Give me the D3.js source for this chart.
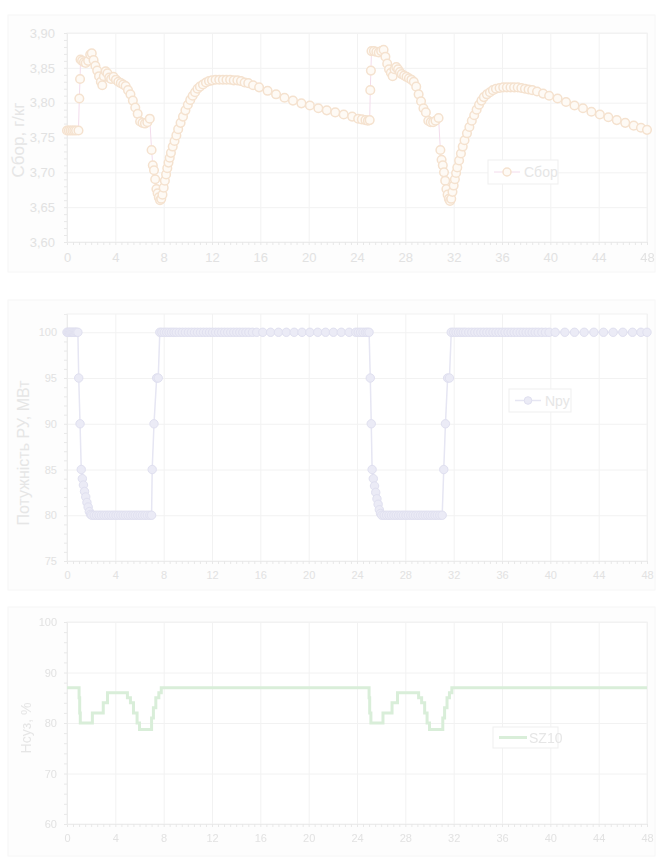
<!DOCTYPE html>
<html>
<head>
<meta charset="utf-8">
<script src="https://cdn.jsdelivr.net/npm/d3@7"></script>
<style>
  body { margin: 0; background: #fff; }
  svg { filter: blur(0.5px); }
  text { font-family: "Liberation Sans", Arial, sans-serif; }
</style>
</head>
<body>
<div id="chart"></div>
<script>
// time axis, hours
const hourTicks = [0, 4, 8, 12, 16, 20, 24, 28, 32, 36, 40, 44, 48]

// Сбор, г/кг  [hour, value]
const sborPoints = [
  [0, 3.760], [0.15, 3.760], [0.3, 3.760], [0.45, 3.760], [0.6, 3.760], [0.75, 3.760], [0.95, 3.760],
  [1.02, 3.806], [1.08, 3.834], [1.12, 3.862], [1.25, 3.860], [1.4, 3.858], [1.55, 3.857], [1.75, 3.860],
  [1.92, 3.869], [2.05, 3.871], [2.2, 3.861], [2.35, 3.853], [2.5, 3.846], [2.65, 3.838], [2.8, 3.830],
  [2.92, 3.825], [3.05, 3.838], [3.2, 3.845], [3.35, 3.842], [3.5, 3.836], [3.65, 3.834], [3.85, 3.837],
  [4.05, 3.833], [4.25, 3.830], [4.45, 3.828], [4.65, 3.826], [4.85, 3.824], [5.05, 3.818], [5.25, 3.812],
  [5.45, 3.803], [5.65, 3.793], [5.85, 3.784], [6.05, 3.773], [6.25, 3.771], [6.45, 3.770], [6.65, 3.772],
  [6.85, 3.777], [7.0, 3.732], [7.1, 3.710], [7.2, 3.703], [7.3, 3.690], [7.4, 3.676], [7.5, 3.670],
  [7.6, 3.664], [7.7, 3.660], [7.8, 3.662], [7.9, 3.668], [8.0, 3.678], [8.1, 3.688], [8.2, 3.697],
  [8.3, 3.706], [8.4, 3.714], [8.5, 3.721], [8.6, 3.728], [8.75, 3.737], [8.9, 3.745], [9.05, 3.753],
  [9.2, 3.762], [9.4, 3.771], [9.6, 3.780], [9.8, 3.789], [10.0, 3.797], [10.2, 3.804], [10.4, 3.810],
  [10.6, 3.815], [10.8, 3.820], [11.0, 3.823], [11.25, 3.826], [11.5, 3.829], [11.75, 3.831], [12.0, 3.832],
  [12.3, 3.833], [12.6, 3.833], [12.9, 3.833], [13.2, 3.833], [13.5, 3.833], [13.8, 3.832], [14.1, 3.832],
  [14.4, 3.831], [14.7, 3.829], [15.0, 3.828], [15.4, 3.825], [15.9, 3.822], [16.6, 3.817], [17.3, 3.812],
  [18.0, 3.807], [18.7, 3.803], [19.4, 3.799], [20.1, 3.796], [20.8, 3.792], [21.5, 3.789], [22.2, 3.786],
  [22.9, 3.783], [23.6, 3.780], [24.1, 3.777], [24.4, 3.776], [24.7, 3.775], [24.9, 3.774], [25.05, 3.775],
  [25.1, 3.818], [25.15, 3.846], [25.2, 3.874], [25.4, 3.874], [25.6, 3.873], [25.8, 3.872], [26.0, 3.874],
  [26.2, 3.876], [26.35, 3.866], [26.5, 3.856], [26.65, 3.848], [26.8, 3.843], [26.95, 3.838], [27.1, 3.848],
  [27.25, 3.851], [27.4, 3.848], [27.55, 3.844], [27.7, 3.841], [27.9, 3.839], [28.1, 3.837], [28.3, 3.835],
  [28.5, 3.833], [28.7, 3.830], [28.9, 3.823], [29.1, 3.812], [29.3, 3.802], [29.5, 3.792], [29.7, 3.786],
  [29.9, 3.774], [30.1, 3.772], [30.3, 3.772], [30.5, 3.774], [30.75, 3.778], [30.9, 3.732], [31.0, 3.718],
  [31.1, 3.710], [31.2, 3.700], [31.3, 3.688], [31.4, 3.676], [31.5, 3.668], [31.6, 3.662], [31.7, 3.659],
  [31.8, 3.662], [31.9, 3.672], [32.0, 3.681], [32.1, 3.690], [32.2, 3.699], [32.3, 3.707], [32.45, 3.717],
  [32.6, 3.727], [32.75, 3.737], [32.9, 3.746], [33.1, 3.756], [33.3, 3.765], [33.5, 3.774], [33.7, 3.782],
  [33.9, 3.790], [34.1, 3.797], [34.3, 3.803], [34.5, 3.808], [34.75, 3.812], [35.0, 3.815], [35.25, 3.818],
  [35.5, 3.820], [35.8, 3.821], [36.1, 3.822], [36.4, 3.822], [36.7, 3.822], [37.0, 3.822], [37.3, 3.822],
  [37.6, 3.821], [37.9, 3.820], [38.2, 3.819], [38.5, 3.818], [38.9, 3.816], [39.4, 3.813], [39.9, 3.810],
  [40.6, 3.806], [41.3, 3.801], [42.0, 3.796], [42.7, 3.792], [43.4, 3.787], [44.1, 3.783], [44.8, 3.779],
  [45.5, 3.775], [46.2, 3.771], [46.9, 3.767], [47.5, 3.764], [48.0, 3.761]
]
const sborTicks = [3.60, 3.65, 3.70, 3.75, 3.80, 3.85, 3.90]

// Nру  [hour, value]
const npuPoints = [
  [0, 100], [0.1, 100], [0.2, 100], [0.3, 100], [0.4, 100], [0.5, 100], [0.6, 100], [0.7, 100], [0.8, 100], [0.9, 100],
  [0.97, 95], [1.08, 90], [1.18, 85], [1.27, 84], [1.36, 83.3], [1.45, 82.6], [1.55, 82], [1.65, 81.4],
  [1.75, 80.9], [1.85, 80.4], [1.95, 80.1], [2.05, 80],
  [2.25, 80], [2.45, 80], [2.65, 80], [2.85, 80], [3.05, 80], [3.25, 80], [3.45, 80], [3.65, 80], [3.85, 80],
  [4.05, 80], [4.25, 80], [4.45, 80], [4.65, 80], [4.85, 80], [5.05, 80], [5.25, 80], [5.45, 80], [5.65, 80],
  [5.85, 80], [6.05, 80], [6.25, 80], [6.45, 80], [6.65, 80], [6.85, 80], [7.0, 80],
  [7.05, 85], [7.2, 90], [7.42, 95], [7.55, 95], [7.68, 100],
  [7.85, 100], [8.05, 100], [8.25, 100], [8.45, 100], [8.65, 100], [8.85, 100], [9.05, 100], [9.3, 100],
  [9.55, 100], [9.8, 100], [10.05, 100], [10.3, 100], [10.55, 100], [10.8, 100], [11.05, 100], [11.3, 100],
  [11.55, 100], [11.8, 100], [12.05, 100], [12.3, 100], [12.55, 100], [12.8, 100], [13.05, 100], [13.3, 100],
  [13.55, 100], [13.8, 100], [14.05, 100], [14.3, 100], [14.55, 100], [14.8, 100], [15.05, 100], [15.35, 100],
  [15.7, 100], [16.2, 100], [16.85, 100], [17.5, 100], [18.15, 100], [18.8, 100], [19.45, 100], [20.1, 100],
  [20.75, 100], [21.4, 100], [22.05, 100], [22.7, 100], [23.35, 100], [23.9, 100], [24.1, 100], [24.3, 100],
  [24.5, 100], [24.7, 100], [24.85, 100], [25.0, 100],
  [25.1, 95], [25.18, 90], [25.25, 85], [25.35, 84], [25.45, 83.2], [25.55, 82.5], [25.65, 81.8],
  [25.75, 81.2], [25.85, 80.6], [25.95, 80.2], [26.05, 80],
  [26.25, 80], [26.45, 80], [26.65, 80], [26.85, 80], [27.05, 80], [27.25, 80], [27.45, 80], [27.65, 80],
  [27.85, 80], [28.05, 80], [28.25, 80], [28.45, 80], [28.65, 80], [28.85, 80], [29.05, 80], [29.25, 80],
  [29.45, 80], [29.65, 80], [29.85, 80], [30.05, 80], [30.25, 80], [30.45, 80], [30.65, 80], [30.85, 80], [31.05, 80],
  [31.18, 85], [31.32, 90], [31.5, 95], [31.65, 95], [31.8, 100],
  [32.0, 100], [32.2, 100], [32.4, 100], [32.6, 100], [32.8, 100], [33.0, 100], [33.25, 100], [33.5, 100],
  [33.75, 100], [34.0, 100], [34.25, 100], [34.5, 100], [34.75, 100], [35.0, 100], [35.25, 100], [35.5, 100],
  [35.75, 100], [36.0, 100], [36.25, 100], [36.5, 100], [36.75, 100], [37.0, 100], [37.25, 100], [37.5, 100],
  [37.75, 100], [38.0, 100], [38.25, 100], [38.5, 100], [38.75, 100], [39.0, 100], [39.3, 100], [39.6, 100],
  [39.9, 100], [40.4, 100], [41.2, 100], [42.0, 100], [42.8, 100], [43.6, 100], [44.4, 100], [45.2, 100],
  [46.0, 100], [46.8, 100], [47.5, 100], [48.0, 100]
]
const npuTicks = [75, 80, 85, 90, 95, 100]

// SZ10, Нсуз %  [hour, value], drawn as steps
const sz10Points = [
  [0, 87], [1.0, 85], [1.05, 82], [1.1, 80], [2.1, 82], [3.0, 84], [3.35, 86], [5.0, 85], [5.25, 84],
  [5.5, 82], [5.8, 80], [6.0, 78.7], [7.0, 81], [7.15, 83], [7.35, 85], [7.6, 86], [7.8, 87],
  [25.0, 85], [25.05, 82], [25.15, 80], [26.15, 82], [26.9, 84], [27.35, 86], [29.1, 85], [29.35, 84],
  [29.6, 82], [29.8, 80], [30.0, 78.7], [31.1, 81], [31.25, 83], [31.45, 85], [31.65, 86], [31.85, 87],
  [48, 87]
]
const sz10Ticks = [60, 70, 80, 90, 100]

const width = 661
const height = 862
const left = 67
const right = 647

const svg = d3
  .select('#chart')
  .append('svg')
  .attr('width', width)
  .attr('height', height)

const xPositionScale = d3.scaleLinear().domain([0, 48]).range([left, right])

const commaFormat = d3.formatLocale({
  decimal: ',',
  thousands: ' ',
  grouping: [3],
  currency: ['', '']
}).format('.2f')

const gridColor = '#f2f2f2'
const textColor = '#e2e2e2'

function drawPanel(cfg) {
  const g = svg.append('g')

  g.append('rect')
    .attr('x', 8)
    .attr('y', cfg.panelTop)
    .attr('width', 647)
    .attr('height', cfg.panelBottom - cfg.panelTop)
    .attr('fill', '#fdfdfd')
    .attr('stroke', '#f6f6f6')

  const yPositionScale = d3
    .scaleLinear()
    .domain(cfg.yDomain)
    .range([cfg.bottom, cfg.top])

  g.append('rect')
    .attr('x', left)
    .attr('y', cfg.top)
    .attr('width', right - left)
    .attr('height', cfg.bottom - cfg.top)
    .attr('fill', '#fff')
    .attr('stroke', gridColor)

  // grid
  const xGrid = g.append('g')
    .attr('transform', 'translate(0,' + cfg.bottom + ')')
    .call(d3.axisBottom(xPositionScale).tickValues(hourTicks).tickSize(-(cfg.bottom - cfg.top)).tickFormat(''))
  const yGrid = g.append('g')
    .attr('transform', 'translate(' + left + ',0)')
    .call(d3.axisLeft(yPositionScale).tickValues(cfg.yTicks).tickSize(-(right - left)).tickFormat(''))
  g.selectAll('.domain').remove()
  xGrid.selectAll('line').attr('stroke', gridColor)
  yGrid.selectAll('line').attr('stroke', gridColor)

  // minor ticks
  const xMinor = g.append('g')
    .attr('transform', 'translate(0,' + cfg.bottom + ')')
    .call(d3.axisBottom(xPositionScale).tickValues(d3.range(0, 48.01, 0.5)).tickSize(3).tickFormat(''))
  const yMinor = g.append('g')
    .attr('transform', 'translate(' + left + ',0)')
    .call(d3.axisLeft(yPositionScale).tickValues(d3.range(cfg.yDomain[0], cfg.yTicks[cfg.yTicks.length - 1] + 1e-9, cfg.yMinor)).tickSize(3).tickFormat(''))
  xMinor.selectAll('line').attr('stroke', '#e8e8e8')
  yMinor.selectAll('line').attr('stroke', '#e8e8e8')
  xMinor.select('.domain').attr('stroke', '#ececec')
  yMinor.select('.domain').attr('stroke', '#ececec')

  // tick labels
  const xAxis = g.append('g')
    .attr('transform', 'translate(0,' + cfg.bottom + ')')
    .call(d3.axisBottom(xPositionScale).tickValues(hourTicks).tickSize(0).tickPadding(cfg.xPad))
  const yAxis = g.append('g')
    .attr('transform', 'translate(' + left + ',0)')
    .call(d3.axisLeft(yPositionScale).tickValues(cfg.yTicks).tickSize(0).tickPadding(cfg.yPad).tickFormat(cfg.format))
  xAxis.select('.domain').remove()
  yAxis.select('.domain').remove()
  xAxis.selectAll('text').attr('fill', textColor).style('font-size', cfg.tickFont + 'px')
  yAxis.selectAll('text').attr('fill', textColor).style('font-size', cfg.tickFont + 'px')

  g.append('text')
    .attr('transform', 'translate(' + cfg.labelX + ',' + cfg.labelY + ') rotate(-90)')
    .attr('text-anchor', 'middle')
    .attr('fill', '#e6e6e6')
    .style('font-size', cfg.labelFont + 'px')
    .text(cfg.label)

  return { g: g, y: yPositionScale }
}

// chart 1: Сбор
const p1 = drawPanel({
  panelTop: 15, panelBottom: 272, top: 33, bottom: 242,
  yDomain: [3.60, 3.90], yTicks: sborTicks, yMinor: 0.01, format: commaFormat,
  xPad: 11, yPad: 12, tickFont: 13, label: 'Сбор, г/кг', labelX: 24, labelY: 140, labelFont: 17
})

p1.g.append('path')
  .datum(sborPoints)
  .attr('fill', 'none')
  .attr('stroke', '#f3dcec')
  .attr('stroke-width', 1)
  .attr('d', d3.line().x(d => xPositionScale(d[0])).y(d => p1.y(d[1])))

p1.g.selectAll('.sbor')
  .data(sborPoints)
  .enter()
  .append('circle')
  .attr('class', 'sbor')
  .attr('cx', d => xPositionScale(d[0]))
  .attr('cy', d => p1.y(d[1]))
  .attr('r', 4.3)
  .attr('fill', '#fefaf5')
  .attr('stroke', '#f5e2cf')
  .attr('stroke-width', 1.5)

// chart 2: Nру
const p2 = drawPanel({
  panelTop: 300, panelBottom: 590, top: 314, bottom: 561,
  yDomain: [75, 102], yTicks: npuTicks, yMinor: 1, format: d3.format('d'),
  xPad: 10, yPad: 10, tickFont: 11, label: 'Потужність РУ, МВт', labelX: 29, labelY: 453, labelFont: 16
})

p2.g.append('path')
  .datum(npuPoints)
  .attr('fill', 'none')
  .attr('stroke', '#e6e6f3')
  .attr('stroke-width', 1.5)
  .attr('d', d3.line().x(d => xPositionScale(d[0])).y(d => p2.y(d[1])))

p2.g.selectAll('.npu')
  .data(npuPoints)
  .enter()
  .append('circle')
  .attr('class', 'npu')
  .attr('cx', d => xPositionScale(d[0]))
  .attr('cy', d => p2.y(d[1]))
  .attr('r', 4.2)
  .attr('fill', '#ebebf6')
  .attr('stroke', '#e0e0f0')
  .attr('stroke-width', 1)

// chart 3: SZ10
const p3 = drawPanel({
  panelTop: 607, panelBottom: 856, top: 622, bottom: 824,
  yDomain: [60, 100], yTicks: sz10Ticks, yMinor: 2, format: d3.format('d'),
  xPad: 10, yPad: 10, tickFont: 11, label: 'Нсуз, %', labelX: 31, labelY: 728, labelFont: 14
})

p3.g.append('path')
  .datum(sz10Points)
  .attr('fill', 'none')
  .attr('stroke', '#d9eed9')
  .attr('stroke-width', 3)
  .attr('d', d3.line().curve(d3.curveStepAfter).x(d => xPositionScale(d[0])).y(d => p3.y(d[1])))

// legends
function legend(g, x, y, w, h, name, kind) {
  g.append('rect')
    .attr('x', x).attr('y', y).attr('width', w).attr('height', h)
    .attr('fill', '#fff').attr('stroke', '#efefef')
  const cy = y + h / 2
  if (kind === 'sbor') {
    g.append('line').attr('x1', x + 6).attr('x2', x + 32).attr('y1', cy).attr('y2', cy)
      .attr('stroke', '#f3dcec')
    g.append('circle').attr('cx', x + 19).attr('cy', cy).attr('r', 4)
      .attr('fill', '#fefaf5').attr('stroke', '#f5e2cf').attr('stroke-width', 1.5)
  } else if (kind === 'npu') {
    g.append('line').attr('x1', x + 6).attr('x2', x + 32).attr('y1', cy).attr('y2', cy)
      .attr('stroke', '#e6e6f3').attr('stroke-width', 1.5)
    g.append('circle').attr('cx', x + 19).attr('cy', cy).attr('r', 3.8)
      .attr('fill', '#ebebf6').attr('stroke', '#e0e0f0')
  } else {
    g.append('line').attr('x1', x + 6).attr('x2', x + 34).attr('y1', cy).attr('y2', cy)
      .attr('stroke', '#d9eed9').attr('stroke-width', 3)
  }
  g.append('text')
    .attr('x', x + 36).attr('y', cy + 5)
    .attr('fill', '#e6e6e6')
    .style('font-size', '14px')
    .text(name)
}

legend(p1.g, 488, 160, 70, 24, 'Сбор', 'sbor')
legend(p2.g, 509, 389, 62, 23, 'Nру', 'npu')
legend(p3.g, 493, 727, 65, 21, 'SZ10', 'sz10')
</script>
</body>
</html>
